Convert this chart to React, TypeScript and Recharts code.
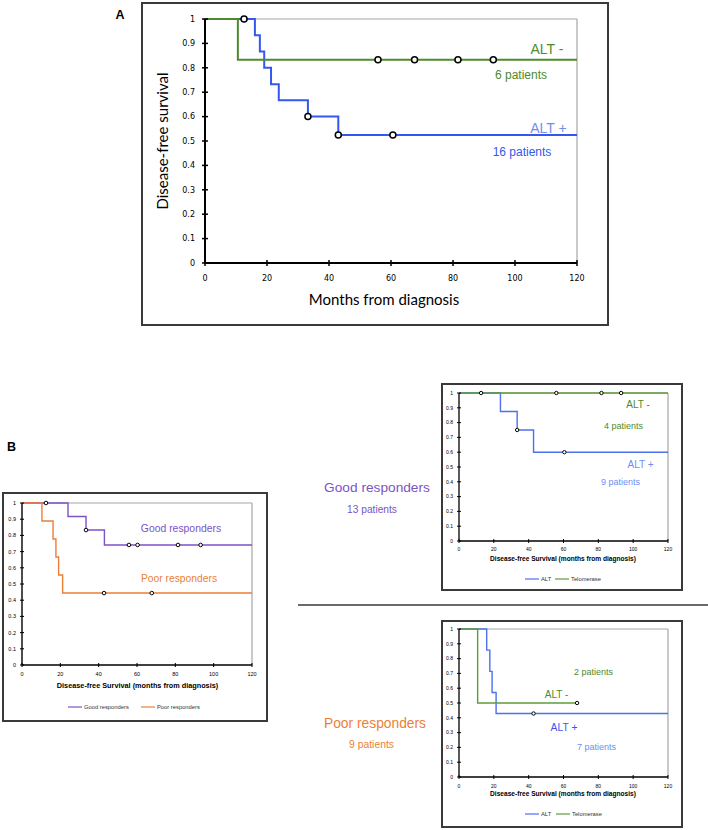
import React from 'react';
import { ComposedChart, Line, Scatter, XAxis, YAxis, ReferenceLine } from 'recharts';

// ---------- shared axis ticks ----------
const X_TICKS = [0, 20, 40, 60, 80, 100, 120];
const Y_TICKS = [0, 0.1, 0.2, 0.3, 0.4, 0.5, 0.6, 0.7, 0.8, 0.9, 1];

// ---------- Panel A: ALT- vs ALT+ ----------
const A_NEG_T = [0, 10.6, 120];
const A_NEG_S = [1, 0.833, 0.833];
const A_NEG_CENS_T = [55.8, 67.6, 81.6, 93.0];
const A_NEG_CENS_S = [0.833, 0.833, 0.833, 0.833];
const A_POS_T = [0, 16.1, 17.7, 19.1, 21.3, 23.8, 33.2, 43.0, 120];
const A_POS_S = [1, 0.933, 0.867, 0.8, 0.733, 0.667, 0.6, 0.525, 0.525];
const A_POS_CENS_T = [12.6, 33.2, 43.0, 60.6];
const A_POS_CENS_S = [1, 0.6, 0.525, 0.525];

// ---------- Panel B left: good vs poor responders ----------
const GOOD_T = [0, 24.0, 33.4, 43.0, 120];
const GOOD_S = [1, 0.917, 0.833, 0.741, 0.741];
const GOOD_CENS_T = [12.5, 33.4, 55.8, 60.3, 81.4, 93.2];
const GOOD_CENS_S = [1, 0.833, 0.741, 0.741, 0.741, 0.741];
const POOR_T = [0, 10.4, 16.2, 17.7, 19.1, 21.2, 120];
const POOR_S = [1, 0.889, 0.778, 0.667, 0.556, 0.444, 0.444];
const POOR_CENS_T = [42.8, 67.7];
const POOR_CENS_S = [0.444, 0.444];

// ---------- Panel B top right: good responders by ALT ----------
const GR_NEG_T = [0, 120];
const GR_NEG_S = [1, 1];
const GR_NEG_CENS_T = [55.9, 81.8, 93.1];
const GR_NEG_CENS_S = [1, 1, 1];
const GR_POS_T = [0, 23.8, 33.4, 42.8, 120];
const GR_POS_S = [1, 0.875, 0.75, 0.6, 0.6];
const GR_POS_CENS_T = [12.7, 33.4, 60.5];
const GR_POS_CENS_S = [1, 0.75, 0.6];

// ---------- Panel B bottom right: poor responders by ALT ----------
const PR_POS_T = [0, 15.9, 17.7, 19.0, 21.3, 120];
const PR_POS_S = [1, 0.857, 0.714, 0.571, 0.429, 0.429];
const PR_POS_CENS_T = [42.8];
const PR_POS_CENS_S = [0.429];
const PR_NEG_T = [0, 10.7, 67.8];
const PR_NEG_S = [1, 0.5, 0.5];
const PR_NEG_CENS_T = [67.8];
const PR_NEG_CENS_S = [0.5];

// ---------- legends ----------
const LEGEND_B_LABELS = ['Good responders', 'Poor responders'];
const LEGEND_ALT_LABELS = ['ALT', 'Telomerase'];

// ---------- colours ----------
const GREEN_A = '#4f8a2c';
const BLUE_A = '#3458ee';
const GREEN_S = '#5f9c3d';
const BLUE_S = '#4d70ec';
const LIGHT_BLUE_TXT = '#6f8ef3';
const PURPLE = '#7c52c6';
const ORANGE = '#ec7f36';
const FRAME = '#a6a6a6';
const BOX = '#3a3a3a';

const pts = (t: number[], s: number[]) => t.map((v, i) => ({ t: v, s: s[i] }));

type SeriesDef = { name: string; t: number[]; s: number[]; ct: number[]; cs: number[]; color: string };
type ChartDef = {
  left: number; top: number; width: number; height: number;
  margin: { top: number; right: number; bottom: number; left: number };
  yWidth: number; xHeight: number;
  series: SeriesDef[];
  lineWidth: number; axisWidth: number;
  fontSize: number; fontFamily: string;
  yGap: number; xGap: number; tickHalf: number;
  r: number; rStroke: number;
};

function KMChart({ def }: { def: ChartDef }) {
  const YTick = (p: any) => {
    const ax = p.x + def.yGap;
    return (
      <g>
        <line x1={ax - def.tickHalf} x2={ax + def.tickHalf} y1={p.y} y2={p.y} stroke="#000" strokeWidth={def.axisWidth * 0.75} />
        <text x={p.x} y={p.y} dy="0.35em" textAnchor="end" fontSize={def.fontSize} fontFamily={def.fontFamily} fill="#000">
          {String(p.payload.value)}
        </text>
      </g>
    );
  };
  const XTick = (p: any) => {
    const ay = p.y - def.xGap;
    return (
      <g>
        <line x1={p.x} x2={p.x} y1={ay - def.tickHalf} y2={ay + def.tickHalf} stroke="#000" strokeWidth={def.axisWidth * 0.75} />
        <text x={p.x} y={p.y} dy="0.71em" textAnchor="middle" fontSize={def.fontSize} fontFamily={def.fontFamily} fill="#000">
          {String(p.payload.value)}
        </text>
      </g>
    );
  };
  const circle = (p: any) => (
    <circle cx={p.cx} cy={p.cy} r={def.r} fill="#fff" stroke="#000" strokeWidth={def.rStroke} />
  );
  return (
    <div style={{ position: 'absolute', left: def.left, top: def.top }}>
      <ComposedChart width={def.width} height={def.height} margin={def.margin}>
        <XAxis
          dataKey="t" type="number" domain={[0, 120]} ticks={X_TICKS} interval={0}
          tickSize={0} tickMargin={def.xGap} tickLine={false}
          axisLine={{ stroke: '#000', strokeWidth: def.axisWidth }}
          tick={XTick} height={def.xHeight}
        />
        <YAxis
          type="number" domain={[0, 1]} ticks={Y_TICKS} interval={0}
          tickSize={0} tickMargin={def.yGap} tickLine={false}
          axisLine={{ stroke: '#000', strokeWidth: def.axisWidth }}
          tick={YTick} width={def.yWidth}
        />
        <ReferenceLine y={1} stroke={FRAME} strokeWidth={1.2} />
        <ReferenceLine x={120} stroke={FRAME} strokeWidth={1.2} />
        {def.series.map((s) => (
          <Line
            key={s.name} name={s.name} data={pts(s.t, s.s)} dataKey="s" type="stepAfter"
            stroke={s.color} strokeWidth={def.lineWidth} dot={false} activeDot={false}
            isAnimationActive={false}
          />
        ))}
        {def.series.map((s) => (
          <Scatter
            key={s.name + '-c'} name={s.name + ' censored'} data={pts(s.ct, s.cs)} dataKey="s"
            shape={circle} isAnimationActive={false}
          />
        ))}
      </ComposedChart>
    </div>
  );
}

const CHART_A: ChartDef = {
  left: 142, top: 2, width: 466, height: 323,
  margin: { top: 17, right: 31, bottom: 32, left: 0 },
  yWidth: 63, xHeight: 30,
  series: [
    { name: 'ALT +', t: A_POS_T, s: A_POS_S, ct: A_POS_CENS_T, cs: A_POS_CENS_S, color: BLUE_A },
    { name: 'ALT -', t: A_NEG_T, s: A_NEG_S, ct: A_NEG_CENS_T, cs: A_NEG_CENS_S, color: GREEN_A },
  ],
  lineWidth: 2, axisWidth: 2, fontSize: 8, fontFamily: 'DejaVu Sans',
  yGap: 10, xGap: 12, tickHalf: 3, r: 3, rStroke: 1.5,
};

const CHART_BL: ChartDef = {
  left: 3, top: 493, width: 264, height: 228,
  margin: { top: 10, right: 15, bottom: 36, left: 0 },
  yWidth: 19, xHeight: 20,
  series: [
    { name: 'Good responders', t: GOOD_T, s: GOOD_S, ct: GOOD_CENS_T, cs: GOOD_CENS_S, color: PURPLE },
    { name: 'Poor responders', t: POOR_T, s: POOR_S, ct: POOR_CENS_T, cs: POOR_CENS_S, color: ORANGE },
  ],
  lineWidth: 1.4, axisWidth: 1.4, fontSize: 5.5, fontFamily: 'Liberation Sans',
  yGap: 6, xGap: 7, tickHalf: 2, r: 1.8, rStroke: 1,
};

const CHART_GR: ChartDef = {
  left: 442, top: 384, width: 240, height: 206,
  margin: { top: 9, right: 14, bottom: 29, left: 0 },
  yWidth: 17, xHeight: 20,
  series: [
    { name: 'ALT', t: GR_POS_T, s: GR_POS_S, ct: GR_POS_CENS_T, cs: GR_POS_CENS_S, color: BLUE_S },
    { name: 'Telomerase', t: GR_NEG_T, s: GR_NEG_S, ct: GR_NEG_CENS_T, cs: GR_NEG_CENS_S, color: GREEN_S },
  ],
  lineWidth: 1.4, axisWidth: 1.3, fontSize: 5, fontFamily: 'Liberation Sans',
  yGap: 6, xGap: 6, tickHalf: 2, r: 1.7, rStroke: 1,
};

const CHART_PR: ChartDef = {
  left: 442, top: 621, width: 240, height: 206,
  margin: { top: 8, right: 14, bottom: 30, left: 0 },
  yWidth: 17, xHeight: 20,
  series: [
    { name: 'ALT', t: PR_POS_T, s: PR_POS_S, ct: PR_POS_CENS_T, cs: PR_POS_CENS_S, color: BLUE_S },
    { name: 'Telomerase', t: PR_NEG_T, s: PR_NEG_S, ct: PR_NEG_CENS_T, cs: PR_NEG_CENS_S, color: GREEN_S },
  ],
  lineWidth: 1.4, axisWidth: 1.3, fontSize: 5, fontFamily: 'Liberation Sans',
  yGap: 6, xGap: 7, tickHalf: 2, r: 1.7, rStroke: 1,
};

const boxStyle = (l: number, t: number, w: number, h: number): React.CSSProperties => ({
  position: 'absolute', left: l, top: t, width: w, height: h,
  border: `2px solid ${BOX}`, boxSizing: 'border-box',
});

const ARIAL = 'Liberation Sans, Arial, sans-serif';

function LegendRow({ x, y, labels, colors, gap }: { x: number; y: number; labels: string[]; colors: string[]; gap: number[] }) {
  let cx = x;
  return (
    <g>
      {labels.map((lab, i) => {
        const x0 = cx + (i === 0 ? 0 : gap[i]);
        cx = x0 + 15 + 2 + lab.length * 3.0;
        return (
          <g key={lab}>
            <line x1={x0} x2={x0 + 14} y1={y} y2={y} stroke={colors[i]} strokeWidth={1.2} />
            <text x={x0 + 16} y={y} dy="0.35em" fontSize={5.8} fontFamily={ARIAL} fill="#333">{lab}</text>
          </g>
        );
      })}
    </g>
  );
}

export default function App() {
  return (
    <div style={{ position: 'absolute', left: 0, top: 0, width: 708, height: 830, background: '#fff', overflow: 'hidden' }}>
      <div style={boxStyle(141, 2, 468, 324)} />
      <div style={boxStyle(2, 492, 266, 230)} />
      <div style={boxStyle(441, 383, 242, 208)} />
      <div style={boxStyle(441, 620, 242, 208)} />

      <KMChart def={CHART_A} />
      <KMChart def={CHART_BL} />
      <KMChart def={CHART_GR} />
      <KMChart def={CHART_PR} />

      <svg width={708} height={830} style={{ position: 'absolute', left: 0, top: 0, pointerEvents: 'none' }}>
        {/* panel letters */}
        <text x={120} y={15} dy="0.35em" textAnchor="middle" fontSize={12.5} fontWeight="bold" fontFamily={ARIAL}>A</text>
        <text x={11.5} y={447} dy="0.35em" textAnchor="middle" fontSize={12.5} fontWeight="bold" fontFamily={ARIAL}>B</text>

        {/* Panel A titles */}
        <text x={163} y={141} dy="0.35em" textAnchor="middle" fontSize={15} fontFamily="Lato" transform="rotate(-90 163 141)">Disease-free survival</text>
        <text x={384} y={300} dy="0.35em" textAnchor="middle" fontSize={15} fontFamily="Lato">Months from diagnosis</text>
        <text x={547} y={49} dy="0.35em" textAnchor="middle" fontSize={14} fontFamily={ARIAL} fill={GREEN_A}>ALT -</text>
        <text x={521} y={75} dy="0.35em" textAnchor="middle" fontSize={12} fontFamily={ARIAL} fill={GREEN_A}>6 patients</text>
        <text x={548.5} y={128} dy="0.35em" textAnchor="middle" fontSize={14} fontFamily={ARIAL} fill={LIGHT_BLUE_TXT}>ALT +</text>
        <text x={522} y={152} dy="0.35em" textAnchor="middle" fontSize={12} fontFamily={ARIAL} fill={BLUE_A}>16 patients</text>

        {/* Panel B left */}
        <text x={137.5} y={685} dy="0.35em" textAnchor="middle" fontSize={7.3} fontWeight="bold" fontFamily={ARIAL}>Disease-free Survival (months from diagnosis)</text>
        <text x={181} y={528} dy="0.35em" textAnchor="middle" fontSize={10.4} fontFamily={ARIAL} fill={PURPLE}>Good responders</text>
        <text x={179} y={578} dy="0.35em" textAnchor="middle" fontSize={10.3} fontFamily={ARIAL} fill={ORANGE}>Poor responders</text>
        <LegendRow x={68} y={707} labels={LEGEND_B_LABELS} colors={[PURPLE, ORANGE]} gap={[0, 11]} />

        {/* Panel B top right */}
        <text x={377} y={487} dy="0.35em" textAnchor="middle" fontSize={13.7} fontFamily={ARIAL} fill={PURPLE}>Good responders</text>
        <text x={372} y={509} dy="0.35em" textAnchor="middle" fontSize={10.2} fontFamily={ARIAL} fill={PURPLE}>13 patients</text>
        <text x={563} y={559} dy="0.35em" textAnchor="middle" fontSize={6.6} fontWeight="bold" fontFamily={ARIAL}>Disease-free Survival (months from diagnosis)</text>
        <text x={638} y={404} dy="0.35em" textAnchor="middle" fontSize={10} fontFamily={ARIAL} fill={GREEN_A}>ALT -</text>
        <text x={623.5} y={426} dy="0.35em" textAnchor="middle" fontSize={9} fontFamily={ARIAL} fill={GREEN_A}>4 patients</text>
        <text x={640.5} y={464} dy="0.35em" textAnchor="middle" fontSize={10} fontFamily={ARIAL} fill={LIGHT_BLUE_TXT}>ALT +</text>
        <text x={620.5} y={482} dy="0.35em" textAnchor="middle" fontSize={9} fontFamily={ARIAL} fill={LIGHT_BLUE_TXT}>9 patients</text>
        <LegendRow x={525} y={579} labels={LEGEND_ALT_LABELS} colors={[BLUE_S, GREEN_S]} gap={[0, 4]} />

        {/* divider */}
        <line x1={298} x2={708} y1={605} y2={605} stroke={BOX} strokeWidth={1.5} />

        {/* Panel B bottom right */}
        <text x={375} y={723} dy="0.35em" textAnchor="middle" fontSize={13.8} fontFamily={ARIAL} fill={ORANGE}>Poor responders</text>
        <text x={371.5} y={744} dy="0.35em" textAnchor="middle" fontSize={10.4} fontFamily={ARIAL} fill={ORANGE}>9 patients</text>
        <text x={563} y={794} dy="0.35em" textAnchor="middle" fontSize={6.6} fontWeight="bold" fontFamily={ARIAL}>Disease-free Survival (months from diagnosis)</text>
        <text x={593.5} y={672} dy="0.35em" textAnchor="middle" fontSize={9} fontFamily={ARIAL} fill={GREEN_A}>2 patients</text>
        <text x={556.5} y={694} dy="0.35em" textAnchor="middle" fontSize={10} fontFamily={ARIAL} fill={GREEN_A}>ALT -</text>
        <text x={564} y={727} dy="0.35em" textAnchor="middle" fontSize={10.3} fontFamily={ARIAL} fill={BLUE_A}>ALT +</text>
        <text x={596.5} y={747} dy="0.35em" textAnchor="middle" fontSize={9} fontFamily={ARIAL} fill={LIGHT_BLUE_TXT}>7 patients</text>
        <LegendRow x={525} y={814} labels={LEGEND_ALT_LABELS} colors={[BLUE_S, GREEN_S]} gap={[0, 5]} />
      </svg>
    </div>
  );
}
